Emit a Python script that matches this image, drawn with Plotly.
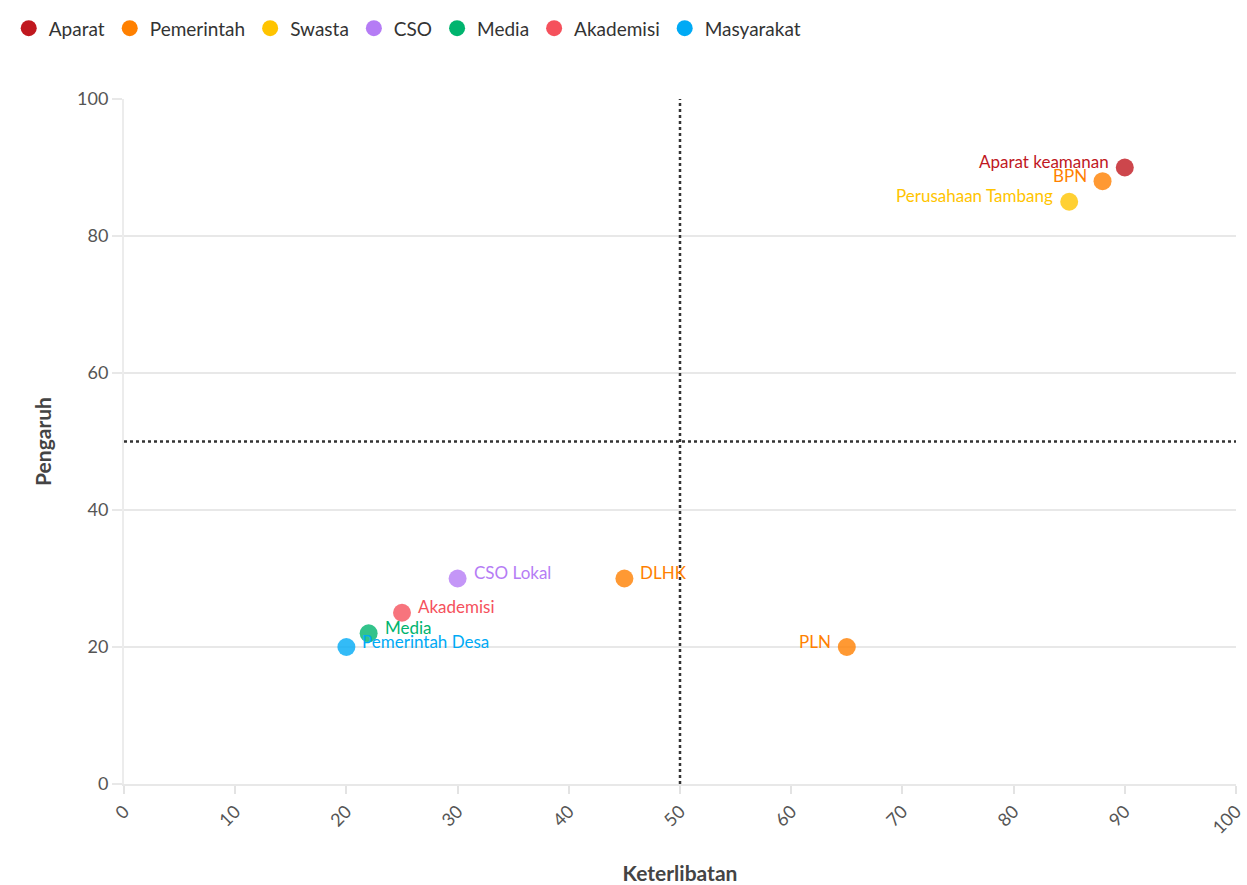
import plotly.graph_objects as go

# Stakeholder mapping: involvement (Keterlibatan) vs influence (Pengaruh)
groups = ["Aparat", "Pemerintah", "Swasta", "CSO", "Media", "Akademisi", "Masyarakat"]
group_colors = ["#c0181f", "#ff8000", "#ffc400", "#b57cf5", "#00b46e", "#f5515c", "#00aaf5"]

names = ["Aparat keamanan", "BPN", "Perusahaan Tambang", "CSO Lokal", "DLHK",
         "Akademisi", "Media", "Pemerintah Desa", "PLN"]
name_group = ["Aparat", "Pemerintah", "Swasta", "CSO", "Pemerintah",
              "Akademisi", "Media", "Masyarakat", "Pemerintah"]
keterlibatan = [90, 88, 85, 30, 45, 25, 22, 20, 65]
pengaruh = [90, 88, 85, 30, 30, 25, 22, 20, 20]
label_side = ["left", "left", "left", "right", "right", "right", "right", "right", "left"]

# quadrant dividers
x_split = 50
y_split = 50

FONT = "Lato, 'Source Sans Pro', 'Noto Sans', sans-serif"
color_of = dict(zip(groups, group_colors))

fig = go.Figure()

for g, c in zip(groups, group_colors):
    idx = [i for i, ng in enumerate(name_group) if ng == g]
    fig.add_trace(go.Scatter(
        x=[keterlibatan[i] for i in idx],
        y=[pengaruh[i] for i in idx],
        text=[names[i] for i in idx],
        mode="markers",
        name=g,
        marker=dict(size=18, color=c, opacity=0.8),
        cliponaxis=False,
        showlegend=False,
        hovertemplate="%{text}<br>Keterlibatan: %{x}<br>Pengaruh: %{y}<extra></extra>",
    ))
    # legend entry with solid colour
    fig.add_trace(go.Scatter(
        x=[None], y=[None], mode="markers", name=g,
        marker=dict(size=20, color=c), showlegend=True,
    ))

# point labels, nudged slightly above the marker centre
for n, g, xv, yv, side in zip(names, name_group, keterlibatan, pengaruh, label_side):
    fig.add_annotation(
        x=xv, y=yv, text=n, showarrow=False,
        xanchor="right" if side == "left" else "left", yanchor="middle",
        xshift=-14 if side == "left" else 14, yshift=6,
        font=dict(color=color_of[g], size=17, family=FONT),
    )

fig.add_shape(type="line", x0=x_split, x1=x_split, y0=0, y1=100, xref="x", yref="y",
              line=dict(color="#333333", width=2.5, dash="dot"), layer="above")
fig.add_shape(type="line", x0=0, x1=100, y0=y_split, y1=y_split, xref="x", yref="y",
              line=dict(color="#333333", width=2.5, dash="dot"), layer="above")

fig.update_layout(
    width=1247, height=885,
    margin=dict(l=124, r=11, t=99, b=101),
    plot_bgcolor="white", paper_bgcolor="white",
    font=dict(family=FONT, color="#555555", size=18),
    legend=dict(orientation="h", xref="container", yref="container",
                x=0.007, y=0.968, xanchor="left", yanchor="middle",
                font=dict(size=19, color="#333333", family=FONT),
                itemwidth=30, tracegroupgap=0),
    xaxis=dict(range=[0, 100], dtick=10, tickangle=-45, showgrid=False, automargin=False,
               ticks="outside", ticklen=8, tickcolor="#e3e3e3", tickwidth=2,
               showline=True, linecolor="#e8e8e8", linewidth=2, zeroline=False,
               tickfont=dict(size=18, color="#555555"),
               title=dict(text="<b>Keterlibatan</b>", font=dict(size=21, color="#444444"),
                          standoff=36)),
    yaxis=dict(range=[0, 100], dtick=20, showgrid=True, gridcolor="#e8e8e8", gridwidth=2,
               automargin=False,
               ticks="outside", ticklen=10, tickcolor="#e8e8e8", tickwidth=2,
               showline=True, linecolor="#ececec", linewidth=2, zeroline=False,
               tickfont=dict(size=18, color="#555555"),
               title=dict(text="<b>Pengaruh</b>", font=dict(size=21, color="#444444"),
                          standoff=20)),
)

fig.write_html("out.html")
